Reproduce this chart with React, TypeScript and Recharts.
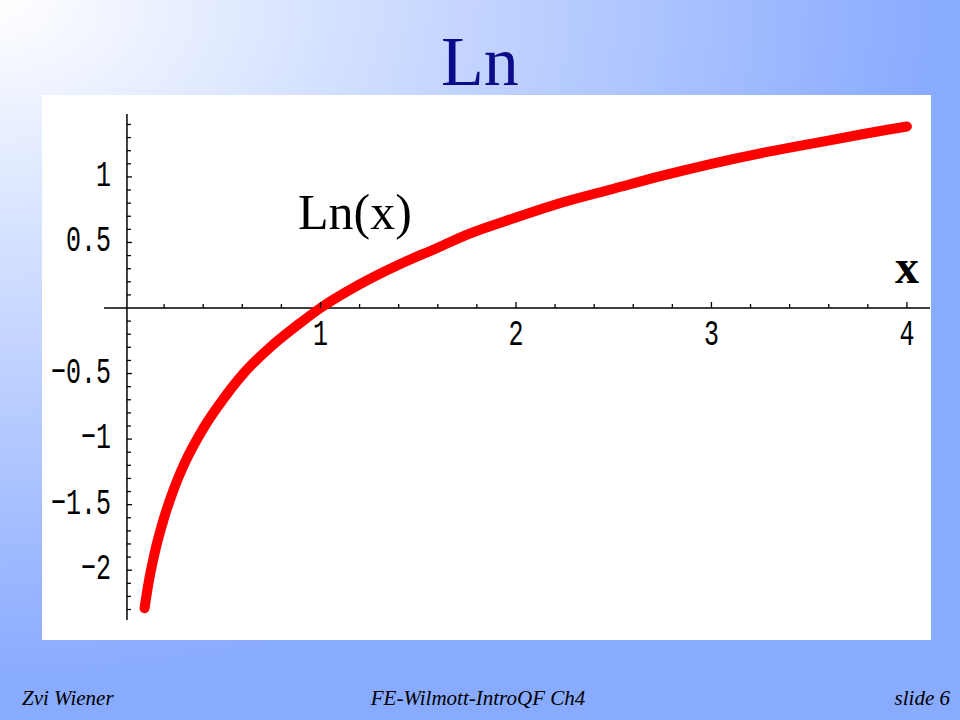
import React from "react";
import { ComposedChart, Line, Scatter, XAxis, YAxis, ReferenceLine } from "recharts";

// ---- data ----
const curveX = [0.1, 0.12, 0.15, 0.2, 0.25, 0.3, 0.4, 0.5, 0.6, 0.75, 0.9, 1.0, 1.2, 1.4, 1.6, 1.75, 2.0, 2.25, 2.5, 2.75, 3.0, 3.25, 3.5, 3.75, 3.9, 4.0];
const curveY = [-2.29, -2.1, -1.88, -1.6, -1.38, -1.2, -0.92, -0.7, -0.51, -0.29, -0.11, 0.0, 0.18, 0.33, 0.46, 0.56, 0.69, 0.81, 0.91, 1.01, 1.1, 1.18, 1.25, 1.32, 1.36, 1.385];

const xTickValues = [0.2, 0.4, 0.6, 0.8, 1, 1.2, 1.4, 1.6, 1.8, 2, 2.2, 2.4, 2.6, 2.8, 3, 3.2, 3.4, 3.6, 3.8, 4];
const xMajorValues = [1, 2, 3, 4];
const xMajorLabels = ["1", "2", "3", "4"];

const yTickValues = [
  -2.3, -2.2, -2.1, -2.0, -1.9, -1.8, -1.7, -1.6, -1.5, -1.4, -1.3, -1.2, -1.1, -1.0,
  -0.9, -0.8, -0.7, -0.6, -0.5, -0.4, -0.3, -0.2, -0.1, 0.1, 0.2, 0.3, 0.4, 0.5,
  0.6, 0.7, 0.8, 0.9, 1.0, 1.1, 1.2, 1.3, 1.4,
];
const yMajorValues = [-2, -1.5, -1, -0.5, 0.5, 1];
const yMajorLabels = ["\u22122", "\u22121.5", "\u22121", "\u22120.5", "0.5", "1"];

const xDomain = [-0.4246, 4.118];
const yDomain = [-2.38, 1.48];
const xAxisStart = -0.107;
const yAxisAt = 0.01;

const curveData = curveX.map((x, i) => ({ x, y: curveY[i] }));
const xTickData = xTickValues.map((x) => {
  const idx = xMajorValues.indexOf(x);
  return { x, y: 0, label: idx >= 0 ? xMajorLabels[idx] : null };
});
const yTickData = yTickValues.map((y) => {
  const idx = yMajorValues.indexOf(y);
  return { x: yAxisAt, y, label: idx >= 0 ? yMajorLabels[idx] : null };
});

const MONO = "'Liberation Mono', 'DejaVu Sans Mono', monospace";

const XTickShape = (props: any) => {
  const { cx, cy, payload } = props;
  const major = payload && payload.label;
  return (
    <g>
      <line x1={cx} y1={cy} x2={cx} y2={cy - (major ? 6 : 4)} stroke="#000" strokeWidth={1.3} />
      {major ? (
        <text
          transform={`translate(${cx},${cy + 37}) scale(1,1.5)`}
          textAnchor="middle"
          fontFamily={MONO}
          fontSize={25}
          fill="#000"
        >
          {payload.label}
        </text>
      ) : null}
    </g>
  );
};

const YTickShape = (props: any) => {
  const { cx, cy, payload } = props;
  const major = payload && payload.label;
  return (
    <g>
      <line x1={cx} y1={cy} x2={cx + (major ? 5 : 4)} y2={cy} stroke="#000" strokeWidth={1.3} />
      {major ? (
        <text
          transform={`translate(${cx - 16},${cy + 9}) scale(1,1.5)`}
          textAnchor="end"
          fontFamily={MONO}
          fontSize={25}
          fill="#000"
        >
          {payload.label}
        </text>
      ) : null}
    </g>
  );
};

export default function App() {
  return (
    <div
      style={{
        position: "absolute",
        left: 0,
        top: 0,
        width: 960,
        height: 720,
        overflow: "hidden",
        background: "radial-gradient(ellipse 940px 680px at 0px 0px, #ffffff 0%, #88aaff 100%)",
      }}
    >
      <div
        style={{
          position: "absolute",
          left: 0,
          top: 22,
          width: 960,
          textAlign: "center",
          fontFamily: "'Liberation Serif', 'Times New Roman', serif",
          fontSize: 70,
          lineHeight: "80px",
          color: "#0c0c8a",
        }}
      >
        Ln
      </div>
      <div
        style={{
          position: "absolute",
          left: 42,
          top: 95,
          width: 889,
          height: 545,
          background: "#ffffff",
        }}
      />
      <div style={{ position: "absolute", left: 0, top: 0 }}>
        <ComposedChart width={960} height={720} margin={{ left: 42, right: 30, top: 114, bottom: 100 }}>
          <XAxis type="number" dataKey="x" domain={xDomain} hide allowDataOverflow />
          <YAxis type="number" dataKey="y" domain={yDomain} hide allowDataOverflow />
          <ReferenceLine
            segment={[
              { x: xAxisStart, y: 0 },
              { x: xDomain[1], y: 0 },
            ]}
            stroke="#000"
            strokeWidth={1.5}
          />
          <ReferenceLine
            segment={[
              { x: yAxisAt, y: yDomain[0] },
              { x: yAxisAt, y: yDomain[1] },
            ]}
            stroke="#000"
            strokeWidth={1.5}
          />
          <Scatter data={xTickData} dataKey="y" shape={<XTickShape />} isAnimationActive={false} />
          <Scatter data={yTickData} dataKey="y" shape={<YTickShape />} isAnimationActive={false} />
          <Line
            data={curveData}
            dataKey="y"
            type="monotone"
            stroke="#ff0000"
            strokeWidth={10}
            strokeLinecap="round"
            strokeLinejoin="round"
            dot={false}
            activeDot={false}
            isAnimationActive={false}
          />
        </ComposedChart>
      </div>
      <div
        style={{
          position: "absolute",
          left: 298,
          top: 184,
          fontFamily: "'Liberation Serif', 'Times New Roman', serif",
          fontSize: 50,
          lineHeight: "56px",
          color: "#000",
        }}
      >
        Ln(x)
      </div>
      <div
        style={{
          position: "absolute",
          left: 895,
          top: 240,
          fontFamily: "'Liberation Serif', 'Times New Roman', serif",
          fontSize: 48,
          fontWeight: "bold",
          lineHeight: "54px",
          color: "#000",
        }}
      >
        x
      </div>
      <div
        style={{
          position: "absolute",
          left: 22,
          top: 686,
          fontFamily: "'Liberation Serif', 'Times New Roman', serif",
          fontStyle: "italic",
          fontSize: 21,
          lineHeight: "24px",
          color: "#000",
        }}
      >
        Zvi Wiener
      </div>
      <div
        style={{
          position: "absolute",
          left: 0,
          width: 956,
          top: 686,
          textAlign: "center",
          fontFamily: "'Liberation Serif', 'Times New Roman', serif",
          fontStyle: "italic",
          fontSize: 21,
          lineHeight: "24px",
          color: "#000",
        }}
      >
        FE-Wilmott-IntroQF Ch4
      </div>
      <div
        style={{
          position: "absolute",
          right: 10,
          top: 686,
          fontFamily: "'Liberation Serif', 'Times New Roman', serif",
          fontStyle: "italic",
          fontSize: 21,
          lineHeight: "24px",
          color: "#000",
        }}
      >
        slide 6
      </div>
    </div>
  );
}
